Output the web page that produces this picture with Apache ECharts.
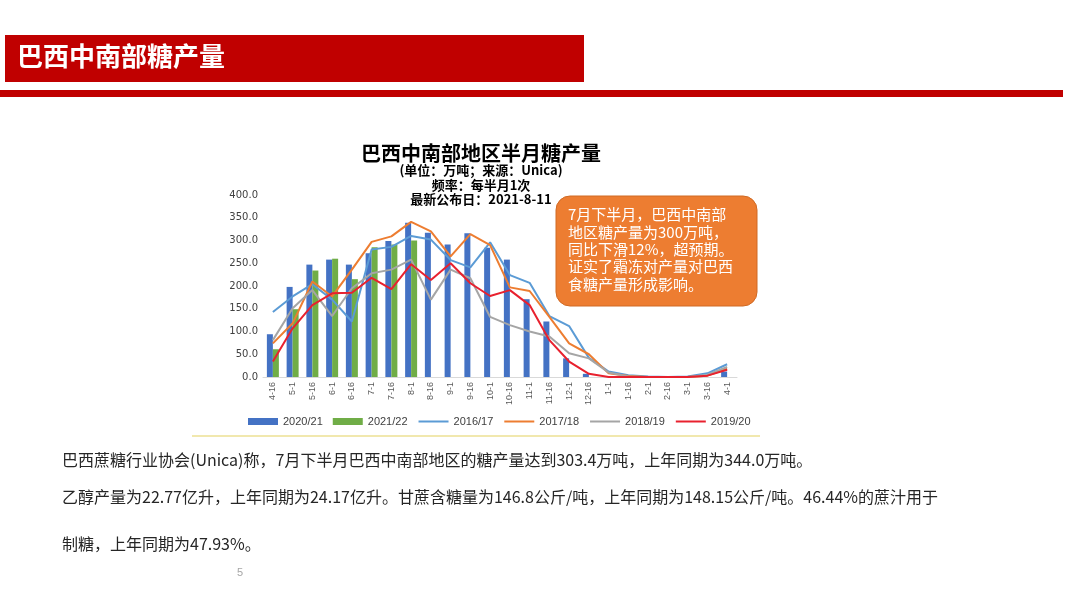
<!DOCTYPE html>
<html>
<head>
<meta charset="utf-8">
<script src="https://cdn.jsdelivr.net/npm/echarts@6/dist/echarts.min.js"></script>
<style>
html,body{margin:0;padding:0;background:#fff;}
#main{width:1066px;height:600px;}
</style>
</head>
<body>
<div id="main"></div>
<script>
var categories = ['4-16','5-1','5-16','6-1','6-16','7-1','7-16','8-1','8-16','9-1','9-16','10-1','10-16','11-1','11-16','12-1','12-16','1-1','1-16','2-1','2-16','3-1','3-16','4-1'];
var yTicks = [0, 400, 50];
var s2020_21 = [94,198,247,258,247,272,299,339,317,291,316,284,258,171,122,41,7,0,0,0,0,0,0,12];
var s2021_22 = [61,149,234,260,215,285,291,300,null,null,null,null,null,null,null,null,null,null,null,null,null,null,null,null];
var s2016_17 = [143,177,204,170,122,280,286,310,302,257,241,296,224,207,134,112,42,12,4,1,0,1,8,28];
var s2017_18 = [74,118,210,177,236,297,309,341,320,265,314,290,197,189,132,74,50,8,2,0,0,0,3,18];
var s2018_19 = [81,151,191,134,195,228,236,258,170,236,217,132,114,100,89,52,41,10,1,0,0,0,5,22];
var s2019_20 = [34,107,158,184,185,218,193,248,213,250,206,178,191,158,81,34,7,0,0,0,0,0,3,16];
var headerTitle = '巴西中南部糖产量';
var chartTitle = '巴西中南部地区半月糖产量';
var chartSub = '(单位：万吨；来源：Unica)\n频率：每半月1次\n最新公布日：2021-8-11';
var noteText = '7月下半月，巴西中南部\n地区糖产量为300万吨，\n同比下滑12%，超预期。\n证实了霜冻对产量对巴西\n食糖产量形成影响。';
var para1 = '巴西蔗糖行业协会(Unica)称，7月下半月巴西中南部地区的糖产量达到303.4万吨，上年同期为344.0万吨。';
var para2 = '乙醇产量为22.77亿升，上年同期为24.17亿升。甘蔗含糖量为146.8公斤/吨，上年同期为148.15公斤/吨。46.44%的蔗汁用于';
var para3 = '制糖，上年同期为47.93%。';

var CJK = '"Noto Sans CJK SC", sans-serif';
var hidden = {color:'rgba(0,0,0,0)', borderWidth:0};
var chart = echarts.init(document.getElementById('main'), null, {renderer:'canvas'});
chart.setOption({
  backgroundColor: '#ffffff',
  animation: false,
  title: [{
    text: chartTitle,
    left: 476, top: 138, textAlign: 'center',
    textStyle: {fontFamily: CJK, fontSize: 20, fontWeight: 'bold', color: '#000'}
  },{
    text: chartSub,
    left: 476, top: 158, textAlign: 'center',
    textStyle: {fontFamily: CJK, fontSize: 13, fontWeight: 'bold', color: '#000', lineHeight: 14.5}
  }],
  grid: {left: 263, right: 329, top: 195, bottom: 223, containLabel: false},
  legend: {
    left: 243, top: 411,
    itemWidth: 30, itemHeight: 7, itemGap: 10,
    textStyle: {fontFamily: '"Liberation Sans", sans-serif', fontSize: 11, color: '#404040'},
    data: [
      {name:'2020/21', icon:'rect'},
      {name:'2021/22', icon:'rect'},
      {name:'2016/17', itemStyle: hidden},
      {name:'2017/18', itemStyle: hidden},
      {name:'2018/19', itemStyle: hidden},
      {name:'2019/20', itemStyle: hidden}
    ]
  },
  xAxis: {
    type: 'category', data: categories,
    axisLine: {lineStyle: {color: '#D9D9D9'}},
    axisTick: {show: false},
    axisLabel: {rotate: 90, interval: 0, fontSize: 9, color: '#595959', margin: 5, fontFamily: '"Liberation Sans", sans-serif'}
  },
  yAxis: {
    type: 'value', min: yTicks[0], max: yTicks[1], interval: yTicks[2],
    splitLine: {show: false},
    axisLine: {show: false}, axisTick: {show: false},
    axisLabel: {formatter: function(v){return v.toFixed(1);}, fontSize: 10, color: '#404040', margin: 5, fontFamily: '"DejaVu Sans", sans-serif'}
  },
  series: [
    {name:'2020/21', type:'bar', data:s2020_21, barWidth:6, barGap:'0%', itemStyle:{color:'#4472C4'}},
    {name:'2021/22', type:'bar', data:s2021_22, barWidth:6, barGap:'0%', itemStyle:{color:'#70AD47'}},
    {name:'2016/17', type:'line', data:s2016_17, symbol:'none', lineStyle:{width:2, color:'#5B9BD5'}, itemStyle:{color:'#5B9BD5'}},
    {name:'2017/18', type:'line', data:s2017_18, symbol:'none', lineStyle:{width:2, color:'#ED7D31'}, itemStyle:{color:'#ED7D31'}},
    {name:'2018/19', type:'line', data:s2018_19, symbol:'none', lineStyle:{width:2, color:'#A5A5A5'}, itemStyle:{color:'#A5A5A5'}},
    {name:'2019/20', type:'line', data:s2019_20, symbol:'none', lineStyle:{width:2, color:'#E8212E'}, itemStyle:{color:'#E8212E'}}
  ],
  graphic: [
    {type:'rect', shape:{x:5, y:35, width:579, height:47}, style:{fill:'#C00000'}},
    {type:'text', left:17, top:43, style:{text:headerTitle, fill:'#ffffff', font:'bold 26px ' + CJK}},
    {type:'rect', shape:{x:0, y:90, width:1063, height:7}, style:{fill:'#C00000'}},
    {type:'rect', shape:{x:556, y:196, width:201, height:110, r:14}, style:{fill:'#ED7D31', stroke:'#D06A24', lineWidth:1}, z:10},
    {type:'text', left:568, top:206, z:11, style:{text:noteText, fill:'#ffffff', font:'15px ' + CJK, lineHeight:17.3}},
    {type:'rect', shape:{x:192, y:435, width:568, height:2}, style:{fill:'#F1E8AE'}},
    {type:'text', left:62, top:452, style:{text:para1, fill:'#262626', font:'16px ' + CJK}},
    {type:'text', left:62, top:489, style:{text:para2, fill:'#262626', font:'16px ' + CJK}},
    {type:'text', left:62, top:536, style:{text:para3, fill:'#262626', font:'16px ' + CJK}},
    {type:'text', left:237, top:567, style:{text:'5', fill:'#A6A6A6', font:'11px "Liberation Sans", sans-serif'}}
  ]
});
</script>
</body>
</html>
